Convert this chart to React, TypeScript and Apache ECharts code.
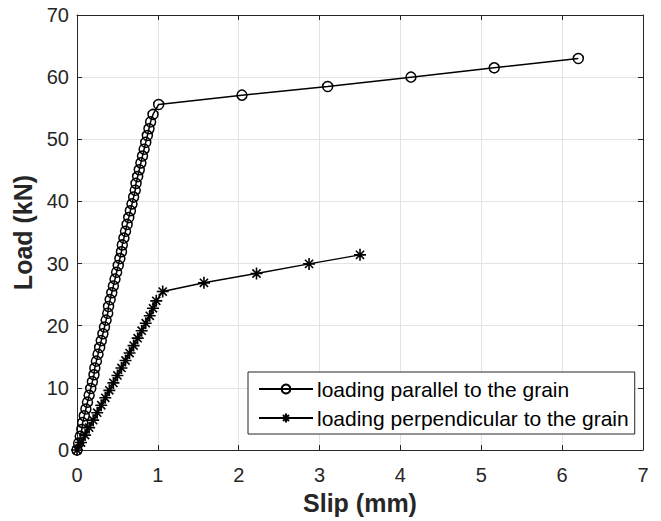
import React, { useEffect, useRef } from "react";
import * as echarts from "echarts";

const parallelData: [number, number][] = [
  [0, 0], [0.02, 1.1], [0.04, 2.2], [0.06, 3.3], [0.07, 4.4], [0.09, 5.5], [0.11, 6.6], [0.13, 7.7],
  [0.15, 8.8], [0.17, 9.9], [0.19, 11.0], [0.21, 12.1], [0.22, 13.2], [0.24, 14.3], [0.26, 15.4],
  [0.28, 16.5], [0.30, 17.6], [0.32, 18.7], [0.34, 19.8], [0.36, 20.9], [0.38, 22.0], [0.39, 23.1],
  [0.41, 24.2], [0.43, 25.3], [0.45, 26.4], [0.47, 27.5], [0.49, 28.6], [0.51, 29.7], [0.53, 30.8],
  [0.55, 31.9], [0.56, 33.0], [0.58, 34.1], [0.60, 35.2], [0.62, 36.3], [0.64, 37.4], [0.66, 38.5],
  [0.68, 39.6], [0.70, 40.7], [0.72, 41.8], [0.73, 42.9], [0.75, 44.0], [0.77, 45.1], [0.79, 46.2],
  [0.81, 47.3], [0.83, 48.4], [0.85, 49.5], [0.87, 50.6], [0.89, 51.7], [0.91, 52.8], [0.94, 54.0],
  [1.01, 55.6], [2.04, 57.1], [3.10, 58.5], [4.13, 60.0], [5.16, 61.5], [6.20, 63.0],
];

const perpendicularData: [number, number][] = [
  [0, 0], [0.05, 1.2], [0.10, 2.4], [0.15, 3.6], [0.20, 4.8], [0.25, 6.0], [0.30, 7.2], [0.35, 8.4],
  [0.40, 9.6], [0.45, 10.8], [0.50, 12.0], [0.55, 13.2], [0.60, 14.4], [0.65, 15.6], [0.70, 16.8],
  [0.75, 18.0], [0.80, 19.2], [0.85, 20.4], [0.90, 21.6], [0.94, 22.8], [0.98, 24.0], [1.06, 25.5],
  [1.57, 26.9], [2.22, 28.4], [2.87, 29.95], [3.50, 31.4],
];

const seriesNames = ["loading parallel to the grain", "loading perpendicular to the grain"];
const xTitle = "Slip (mm)";
const yTitle = "Load (kN)";

const FONT = "'Liberation Sans', Arial, sans-serif";
const AX = "#262626";
const ASTERISK = "path://M5,0 L5,10 M0,5 L10,5 M1.6,1.6 L8.4,8.4 M1.6,8.4 L8.4,1.6";

export default function App() {
  const ref = useRef<HTMLDivElement>(null);
  useEffect(() => {
    if (!ref.current) return;
    const chart = echarts.init(ref.current, undefined, { renderer: "svg" });
    const baseAxis = {
      type: "value" as const,
      axisLine: { show: true, onZero: false, lineStyle: { color: AX, width: 1 } },
      axisTick: { show: true, inside: true, length: 5, lineStyle: { color: AX } },
    };
    chart.setOption({
      animation: false,
      backgroundColor: "#ffffff",
      grid: { left: 77, right: 18, top: 15, bottom: 71 },
      legend: {
        orient: "vertical",
        left: 248,
        top: 372,
        padding: [6, 6, 5, 10],
        itemGap: 7,
        itemWidth: 54,
        itemHeight: 11,
        backgroundColor: "#ffffff",
        borderColor: AX,
        borderWidth: 1,
        borderRadius: 0,
        textStyle: { fontFamily: FONT, fontSize: 21, color: "#000", lineHeight: 22, padding: [0, 0, 0, -1] },
        data: seriesNames,
      },
      xAxis: [
        {
          ...baseAxis,
          min: 0, max: 7, interval: 1,
          name: xTitle, nameLocation: "middle", nameGap: 40,
          nameTextStyle: { fontFamily: FONT, fontSize: 25, fontWeight: "bold", color: AX },
          axisLabel: { fontFamily: FONT, fontSize: 20, color: AX, margin: 15 },
          splitLine: { show: true, lineStyle: { color: "#e3e3e3", width: 1 } },
        },
        {
          ...baseAxis, position: "top",
          min: 0, max: 7, interval: 1,
          axisLabel: { show: false }, splitLine: { show: false },
        },
      ],
      yAxis: [
        {
          ...baseAxis,
          min: 0, max: 70, interval: 10,
          name: yTitle, nameLocation: "middle", nameGap: 37,
          nameTextStyle: { fontFamily: FONT, fontSize: 25, fontWeight: "bold", color: AX },
          axisLabel: { fontFamily: FONT, fontSize: 20, color: AX, margin: 8 },
          splitLine: { show: true, lineStyle: { color: "#e3e3e3", width: 1 } },
        },
        {
          ...baseAxis, position: "right",
          min: 0, max: 70, interval: 10,
          axisLabel: { show: false }, splitLine: { show: false },
        },
      ],
      series: [
        {
          name: seriesNames[0],
          type: "line",
          data: parallelData,
          symbol: "circle",
          symbolSize: 10,
          showAllSymbol: true,
          lineStyle: { color: "#000", width: 1.5 },
          itemStyle: { color: "rgba(255,255,255,0)", borderColor: "#000", borderWidth: 1.5 },
          z: 3,
        },
        {
          name: seriesNames[1],
          type: "line",
          data: perpendicularData,
          symbol: ASTERISK,
          symbolSize: 12,
          showAllSymbol: true,
          lineStyle: { color: "#000", width: 1.5 },
          itemStyle: { color: "rgba(255,255,255,0)", borderColor: "#000", borderWidth: 1.6 },
          z: 3,
        },
      ],
    });
    return () => chart.dispose();
  }, []);
  return <div ref={ref} style={{ width: 661, height: 521, position: "absolute", left: 0, top: 0 }} />;
}
